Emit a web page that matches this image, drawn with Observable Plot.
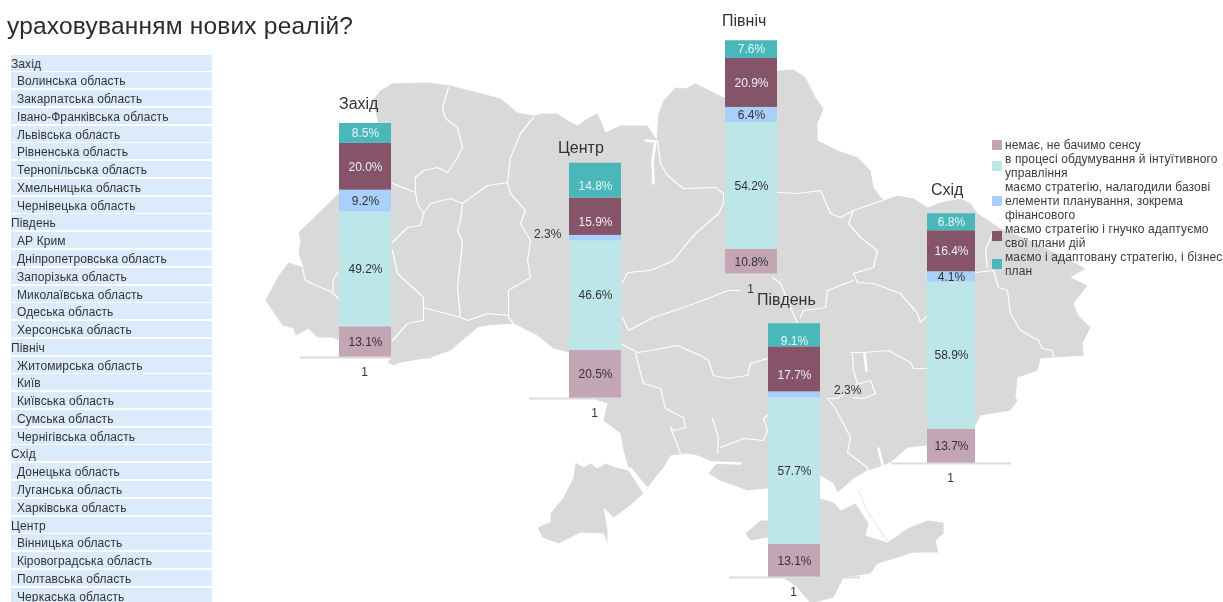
<!DOCTYPE html>
<html lang="uk">
<head>
<meta charset="utf-8">
<script src="https://cdn.jsdelivr.net/npm/d3@7"></script>
<script src="https://cdn.jsdelivr.net/npm/@observablehq/plot@0.6"></script>
<style>
  html, body { margin: 0; padding: 0; background: #fff; overflow: hidden; }
  #page { position: relative; width: 1223px; height: 602px; overflow: hidden; filter: blur(0.45px);
          font-family: "Liberation Sans", Arial, sans-serif; color: #333; }
  #page svg { background: transparent; max-width: none; }
  .layer { position: absolute; }
  #title { position: absolute; left: 7px; top: 12px; font-size: 24.5px; line-height: 28px; color: #2b2b2b; white-space: nowrap; letter-spacing: 0.2px; }
  .row { position: absolute; left: 11px; width: 201px; height: 16px; background: #dcebfc; font-size: 12px; line-height: 19px; letter-spacing: 0.1px; color: #333; white-space: nowrap; }
  .row.group { padding-left: 0; width: 201px; }
  .row.item { padding-left: 6px; width: 195px; }
  .lg { position: absolute; left: 1005px; font-size: 12px; line-height: 14px; letter-spacing: 0.12px; color: #3a3a3a; white-space: nowrap; }
  .sw { position: absolute; left: 992px; width: 10px; height: 10px; }
</style>
</head>
<body>
<div id="page"></div>
<script>
// ---------- text ----------
const titleText = "ураховуванням нових реалій?";
const groupedList = [
  ["Захід", ["Волинська область","Закарпатська область","Івано-Франківська область","Львівська область","Рівненська область","Тернопільська область","Хмельницька область","Чернівецька область"]],
  ["Південь", ["АР Крим","Дніпропетровська область","Запорізька область","Миколаївська область","Одеська область","Херсонська область"]],
  ["Північ", ["Житомирська область","Київ","Київська область","Сумська область","Чернігівська область"]],
  ["Схід", ["Донецька область","Луганська область","Харківська область"]],
  ["Центр", ["Вінницька область","Кіровоградська область","Полтавська область","Черкаська область"]]
];

// ---------- data (share of answers, %) ----------
const answers = ["немає, не бачимо сенсу","в процесі обдумування й інтуїтивного управління","маємо стратегію, налагодили базові елементи планування, зокрема фінансового","маємо стратегію і гнучко адаптуємо свої плани дій","маємо і адаптовану стратегію, і бізнес план"];
const zakhid  = [13.1, 49.2, 9.2, 20.0, 8.5];
const tsentr  = [20.5, 46.6, 2.3, 15.9, 14.8];
const pivnich = [10.8, 54.2, 6.4, 20.9, 7.6];
const pivden  = [13.1, 57.7, 2.3, 17.7, 9.1];
const skhid   = [13.7, 58.9, 4.1, 16.4, 6.8];
const colors = ["#c4a5b3", "#bce6e8", "#a8d0fb", "#855468", "#4ab8bb"];
const textColors = ["#333", "#333", "#333", "#eee", "#e8f6f6"];

// ---------- map outline ----------
const mainland = [[392,83],[427,82],[450,85],[477,92],[500,98],[517,112],[533,115],[543,113],[557,113],[567,120],[577,125],[587,118],[597,113],[601,122],[605,132],[620,125],[647,125],[656,139],[658,113],[663,100],[675,87],[685,88],[695,83],[723,97],[750,90],[778,70],[793,69],[805,77],[815,97],[823,108],[817,123],[817,140],[837,150],[857,157],[870,170],[873,187],[883,200],[897,195],[913,198],[927,207],[940,202],[960,198],[970,203],[977,213],[988,220],[1000,228],[1030,240],[1060,255],[1085,268],[1070,277],[1087,285],[1073,303],[1078,315],[1090,327],[1082,343],[1083,355],[1040,358],[1037,370],[1017,377],[1015,397],[1017,400],[1010,410],[980,415],[975,425],[927,445],[907,447],[890,462],[877,467],[867,470],[853,478],[843,487],[837,492],[833,483],[820,475],[767,488],[747,490],[720,480],[708,473],[716,463],[697,455],[687,453],[670,455],[663,467],[647,487],[633,470],[628,467],[623,450],[620,433],[603,420],[607,403],[597,400],[590,395],[569,352],[553,348],[537,335],[513,323],[487,325],[477,327],[450,350],[430,357],[400,362],[393,365],[387,362],[391,357],[339,340],[332,337],[317,337],[308,328],[295,335],[293,328],[282,325],[270,307],[265,300],[277,277],[288,262],[303,267],[298,253],[300,240],[298,232],[339,192],[378,123],[372,100],[380,90]];
const budjak = [[575,462],[583,467],[590,463],[597,468],[605,463],[615,467],[628,470],[643,493],[627,507],[613,517],[603,507],[607,530],[607,543],[603,533],[580,532],[558,543],[542,537],[537,527],[550,522],[550,513],[563,497],[573,477]];
const crimea = [[745,533],[760,520],[767,520],[820,498],[833,502],[840,510],[855,503],[868,523],[865,535],[887,542],[907,528],[927,520],[943,522],[943,533],[935,540],[938,552],[913,552],[897,557],[877,563],[870,573],[843,577],[833,597],[810,603],[797,587],[780,575],[767,537],[750,540]];
const arabat = [[858,490],[868,513],[887,540]];
const borders = [
  [[448,87],[442,107],[445,118],[457,127],[462,147],[457,157],[447,172],[437,167],[423,170],[415,177],[415,192],[392,183]],
  [[415,192],[417,203],[423,213],[420,225],[407,227],[392,242]],
  [[423,213],[430,203],[450,198],[462,203],[460,220],[457,230],[462,242],[457,287],[460,317]],
  [[462,203],[487,185],[507,182],[510,157],[520,133],[533,117]],
  [[507,182],[510,193],[525,210],[520,223],[530,240],[527,260],[530,277],[508,290],[508,317],[513,323]],
  [[392,250],[397,273],[423,297],[423,307],[460,317],[468,320],[487,313],[508,315]],
  [[423,305],[423,320],[407,323],[392,340]],
  [[302,268],[305,280],[332,292],[338,298]],
  [[332,292],[333,278],[339,270]],
  [[622,282],[627,272],[650,270],[673,260],[683,247],[695,233],[718,213],[723,203],[723,192]],
  [[622,317],[628,330],[653,317],[680,308],[697,302],[728,290],[740,290]],
  [[657,140],[660,163],[667,175],[683,188],[715,187],[723,193]],
  [[777,192],[797,193],[820,190],[830,213],[840,217],[853,210],[882,200]],
  [[853,210],[848,223],[860,237],[877,250],[873,267],[853,273],[857,282],[873,283],[900,293],[917,313],[920,322],[927,315]],
  [[772,277],[780,283],[783,290],[797,323]],
  [[853,280],[827,290],[825,307],[803,310],[800,317]],
  [[620,343],[637,352],[650,350],[677,345],[700,355],[708,360],[713,375],[727,378],[747,375],[750,363],[767,358]],
  [[635,353],[643,383],[660,388],[665,408],[683,417],[685,427],[673,430],[670,427],[680,453]],
  [[712,418],[718,437],[717,453]],
  [[720,447],[743,438],[763,440],[767,430],[763,418],[767,415]],
  [[827,398],[835,408],[850,437],[847,452],[867,467],[868,477]],
  [[850,352],[863,352],[888,350],[910,362],[913,368],[927,368]],
  [[852,353],[853,370],[857,383],[837,398],[827,398]],
  [[853,385],[870,380],[875,393],[863,398],[853,397]],
  [[975,272],[993,270],[998,287],[1007,290],[1010,313],[1020,330],[1038,340],[1042,348],[1052,350],[1053,357]],
  [[987,267],[985,250],[993,230]]
];
const rivers = [
  [[645,140],[655,141],[652,160],[653,183]],
  [[864,353],[866,370]],
  [[712,462],[740,463]],
  [[630,468],[645,490]],
  [[878,448],[882,464]]
];

// ---------- bar chart layout on the page ----------
const charts = [
  {name:"Захід",   values:zakhid,  barL:339, top:123, bottom:357, barW:52, axisL:300, axisR:431, titleX:339, titleY:104},
  {name:"Центр",   values:tsentr,  barL:569, top:163, bottom:398, barW:52, axisL:529, axisR:661, titleX:558, titleY:148, outsideLeft:534},
  {name:"Північ",  values:pivnich, barL:725, top:40,  bottom:274, barW:52, axisL:685, axisR:816, titleX:722, titleY:21},
  {name:"Південь", values:pivden,  barL:768, top:323, bottom:577, barW:52, axisL:729, axisR:860, titleX:757, titleY:300, outsideLeft:834},
  {name:"Схід",    values:skhid,   barL:927, top:213, bottom:463, barW:48, axisL:891, axisR:1011,titleX:931, titleY:190}
];

const page = document.getElementById("page");

// map
const feature = rings => ({type:"Feature", geometry:{type:"Polygon", coordinates:[[...rings, rings[0]]]}});
const mapPlot = Plot.plot({
  width: 1223, height: 602, margin: 0,
  projection: "identity",
  marks: [
    Plot.geo({type:"LineString", coordinates: arabat}, {stroke:"#e4e4e4", strokeWidth:1, fill:"none"}),
    Plot.geo([mainland, budjak, crimea].map(feature), {fill:"#d9d9d9", stroke:"none"}),
    Plot.geo({type:"MultiLineString", coordinates: borders}, {stroke:"#fff", strokeWidth:1.2, fill:"none"}),
    Plot.geo({type:"MultiLineString", coordinates: rivers}, {stroke:"#fff", strokeWidth:2.6, fill:"none"})
  ]
});
mapPlot.classList.add("layer");
mapPlot.style.left = "0px"; mapPlot.style.top = "0px";
page.appendChild(mapPlot);

// bars
for (const c of charts) {
  const rows = answers.map((a, i) => ({key:"1", answer:a, i, value:c.values[i], label:c.values[i].toFixed(1) + "%"}));
  const marginBottom = 30, marginTop = 2;
  const w = c.axisR - c.axisL, h = c.bottom - c.top + marginTop + marginBottom;
  const insetLeft = c.barL - c.axisL;
  const center = insetLeft + c.barW/2 - w/2;
  const outside = c.outsideLeft != null;
  const inside = rows.filter(r => !(outside && r.value < 3));
  const outsideRows = rows.filter(r => outside && r.value < 3);
  const p = Plot.plot({
    width: w, height: h,
    marginLeft: 0, marginRight: 0, marginTop, marginBottom,
    x: {domain:["1"], axis:null, padding:0},
    y: {domain:[0,100], axis:null},
    color: {domain:answers, range:colors},
    marks: [
      Plot.barY(rows, {x:"key", y:"value", fill:"answer", order:"i", insetLeft, insetRight: w - insetLeft - c.barW}),
      Plot.ruleY([0], {stroke:"#dcdcdc", strokeWidth:2}),
      Plot.text(["1"], {x:d=>d, frameAnchor:"bottom", dy:18, dx:center - 1, fontSize:12, fill:"#333", fontFamily:"Liberation Sans, Arial, sans-serif"}),
      Plot.text(inside, Plot.stackY({x:"key", y:"value", order:"i", text:"label", dx:center, fontSize:12, fontFamily:"Liberation Sans, Arial, sans-serif", fill:d=>textColors[d.i]}))
    ],
    style: {overflow:"visible", background:"transparent"}
  });
  p.classList.add("layer");
  p.style.left = c.axisL + "px";
  p.style.top = (c.top - marginTop) + "px";
  page.appendChild(p);

  // region name (title of each small chart)
  const t = document.createElement("div");
  t.textContent = c.name;
  t.style.cssText = `position:absolute;left:${c.titleX}px;top:${c.titleY - 9}px;font-size:16px;line-height:18px;color:#333;white-space:nowrap`;
  page.appendChild(t);

  // slice label placed beside a bar
  for (const r of outsideRows) {
    const below = c.values.slice(0, r.i).reduce((a,b)=>a+b, 0);
    const yPos = c.bottom - (below + r.value/2) / 100 * (c.bottom - c.top);
    const o = document.createElement("div");
    o.textContent = r.label;
    o.style.cssText = `position:absolute;left:${c.outsideLeft}px;top:${yPos - 10}px;font-size:12px;line-height:12px;color:#333;white-space:nowrap`;
    page.appendChild(o);
  }
}

// left list
let rowIndex = 0;
const rowTop = i => 54.5 + i * 17.77;
for (const [group, items] of groupedList) {
  const g = document.createElement("div");
  g.className = "row group"; g.textContent = group; g.style.top = rowTop(rowIndex++) + "px";
  page.appendChild(g);
  for (const it of items) {
    const r = document.createElement("div");
    r.className = "row item"; r.textContent = it; r.style.top = rowTop(rowIndex++) + "px";
    page.appendChild(r);
  }
}

// title
const title = document.createElement("div");
title.id = "title"; title.textContent = titleText;
page.appendChild(title);

// legend
const legendLines = [
  ["немає, не бачимо сенсу"],
  ["в процесі обдумування й інтуїтивного","управління"],
  ["маємо стратегію, налагодили базові","елементи планування, зокрема","фінансового"],
  ["маємо стратегію і гнучко адаптуємо","свої плани дій"],
  ["маємо і адаптовану стратегію, і бізнес","план"]
];
let ly = 138;
legendLines.forEach((lines, i) => {
  const block = lines.length * 14;
  const sw = document.createElement("div");
  sw.className = "sw"; sw.style.background = colors[i];
  sw.style.top = (ly + block/2 - 5) + "px";
  page.appendChild(sw);
  lines.forEach((line, j) => {
    const d = document.createElement("div");
    d.className = "lg"; d.textContent = line; d.style.top = (ly + j*14) + "px";
    page.appendChild(d);
  });
  ly += block;
});
</script>
</body>
</html>
